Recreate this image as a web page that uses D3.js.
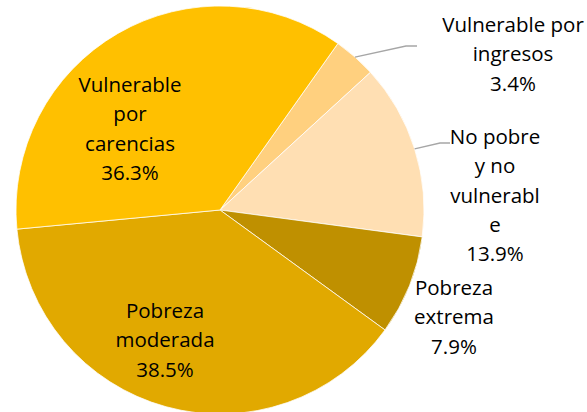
<!DOCTYPE html>
<html>
<head>
<meta charset="utf-8">
<script src="https://cdn.jsdelivr.net/npm/d3@7"></script>
<style>
  body { margin: 0; background: #fff; }
  svg { display: block; }
  .lbl { font-family: "Open Sans", sans-serif; font-size: 20.5px; fill: #000; }
</style>
</head>
<body>
<div id="chart"></div>
<script>
// pie of population shares, clockwise starting at the ingresos slice
var categories = ["Vulnerable por ingresos", "No pobre y no vulnerable", "Pobreza extrema", "Pobreza moderada", "Vulnerable por carencias"];
var shares = [3.4, 13.9, 7.9, 38.5, 36.3];
// label text as wrapped in the original (each line is a row)
var labelLines = [
  ["Vulnerable por", "ingresos", "3.4%"],
  ["No pobre", "y no", "vulnerabl", "e", "13.9%"],
  ["Pobreza", "extrema", "7.9%"],
  ["Pobreza", "moderada", "38.5%"],
  ["Vulnerable", "por", "carencias", "36.3%"]
];
var colors = ["#FFD07F", "#FFDFB3", "#BF9000", "#E1A900", "#FFC000"];

var svgWidth = 587;
var svgHeight = 412;
var cx = 220, cy = 210, radius = 204;
var startDeg = 35.3;

// label anchors: first baseline, center x
var labelPos = [[513, 32], [495, 144], [454, 295], [165, 318], [130, 92]];
var lineGap = 29.3;
// leader line elbows (only outside labels that have one)
var leaders = [[[406, 46], [417, 46]], [[440, 143], [450, 143]], null, null, null];

var svg = d3.select("#chart")
  .append("svg")
  .attr("width", svgWidth)
  .attr("height", svgHeight);

var g = svg.append("g")
  .attr("transform", `translate(${cx}, ${cy})`);

var start = startDeg * Math.PI / 180;
var pie = d3.pie()
  .sort(null)
  .value(d => d)
  .startAngle(start)
  .endAngle(start + 2 * Math.PI);

var arc = d3.arc().innerRadius(0).outerRadius(radius);
var arcs = pie(shares);

g.selectAll("path.slice")
  .data(arcs)
  .join("path")
  .attr("class", "slice")
  .attr("d", arc)
  .attr("fill", (d, i) => colors[i])
  .attr("stroke", "#fff")
  .attr("stroke-width", 0.75);

// leader lines from slice edge to label
arcs.forEach((d, i) => {
  if (!leaders[i]) return;
  var a = (d.startAngle + d.endAngle) / 2;
  var p0 = [cx + radius * Math.sin(a), cy - radius * Math.cos(a)];
  var pts = [p0].concat(leaders[i]);
  svg.append("polyline")
    .attr("points", pts.map(p => p.join(",")).join(" "))
    .attr("fill", "none")
    .attr("stroke", "#A6A6A6")
    .attr("stroke-width", 1.3);
});

// labels
labelLines.forEach((lines, i) => {
  var t = svg.append("text")
    .attr("class", "lbl")
    .attr("text-anchor", "middle");
  lines.forEach((s, j) => {
    t.append("tspan")
      .attr("x", labelPos[i][0])
      .attr("y", labelPos[i][1] + j * lineGap)
      .text(s);
  });
});
</script>
</body>
</html>
